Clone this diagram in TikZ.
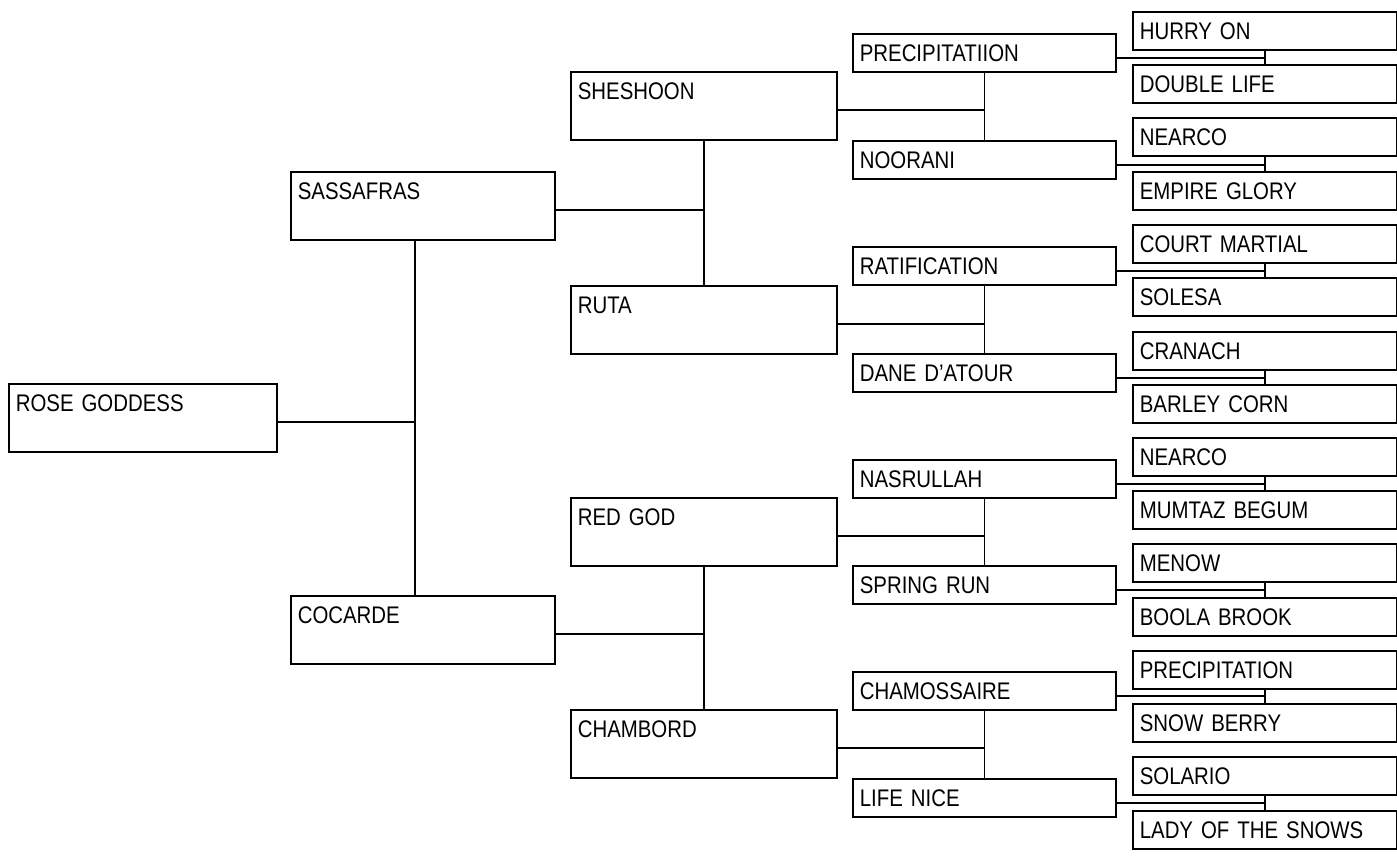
\documentclass[tikz,border=0pt]{standalone}
\usepackage{fontspec}
\setmainfont{Liberation Sans}[FakeStretch=0.85]
\begin{document}
\begin{tikzpicture}[x=1pt,y=-1pt,line width=1.6pt,
  every node/.style={draw,anchor=north west,align=left,inner xsep=7pt,inner ysep=0pt,font=\fontsize{24}{26}\selectfont,text height=28pt},
  bigbox/.style={text width=#1,text depth=40pt},
  smallbox/.style={text width=#1,text depth=10pt}]
\useasboundingbox (0,0) rectangle (1397,856);
\node[bigbox=254pt] (rose) at (8,383) {ROSE GODDESS};
\node[bigbox=250pt] (sass) at (290,171) {SASSAFRAS};
\node[bigbox=250pt] (coc) at (290,595) {COCARDE};
\node[bigbox=252pt] (shes) at (570,71) {SHESHOON};
\node[bigbox=252pt] (ruta) at (570,285) {RUTA};
\node[bigbox=252pt] (redgod) at (570,497) {RED GOD};
\node[bigbox=252pt] (chamb) at (570,709) {CHAMBORD};
\node[smallbox=249pt] (precii) at (852,33) {PRECIPITATIION};
\node[smallbox=249pt] (noor) at (852,140) {NOORANI};
\node[smallbox=249pt] (ratif) at (852,246) {RATIFICATION};
\node[smallbox=249pt] (dane) at (852,353) {DANE D'ATOUR};
\node[smallbox=249pt] (nasr) at (852,459) {NASRULLAH};
\node[smallbox=249pt] (spring) at (852,565) {SPRING RUN};
\node[smallbox=249pt] (chamos) at (852,671) {CHAMOSSAIRE};
\node[smallbox=249pt] (life) at (852,778) {LIFE NICE};
\node[smallbox=250pt] (hurry) at (1132,11) {HURRY ON};
\node[smallbox=250pt] (dlife) at (1132,64) {DOUBLE LIFE};
\node[smallbox=250pt] (nearcoa) at (1132,117) {NEARCO};
\node[smallbox=250pt] (empire) at (1132,171) {EMPIRE GLORY};
\node[smallbox=250pt] (court) at (1132,224) {COURT MARTIAL};
\node[smallbox=250pt] (solesa) at (1132,277) {SOLESA};
\node[smallbox=250pt] (cranach) at (1132,331) {CRANACH};
\node[smallbox=250pt] (barley) at (1132,384) {BARLEY CORN};
\node[smallbox=250pt] (nearcob) at (1132,437) {NEARCO};
\node[smallbox=250pt] (mumtaz) at (1132,490) {MUMTAZ BEGUM};
\node[smallbox=250pt] (menow) at (1132,543) {MENOW};
\node[smallbox=250pt] (boola) at (1132,597) {BOOLA BROOK};
\node[smallbox=250pt] (precip) at (1132,650) {PRECIPITATION};
\node[smallbox=250pt] (snowb) at (1132,703) {SNOW BERRY};
\node[smallbox=250pt] (solario) at (1132,756) {SOLARIO};
\node[smallbox=250pt] (lady) at (1132,810) {LADY OF THE SNOWS};
% rose goddess
\draw ([yshift=-4pt]rose.east) -- ([yshift=-4pt,xshift=-8pt]rose.east -| sass.south);\draw ([xshift=-8pt]sass.south) -- ([xshift=-8pt]coc.north);
% second generation
\draw ([yshift=-4pt]sass.east) -- ([yshift=-4pt]sass.east -| shes.south);\draw (shes.south) -- (ruta.north);
\draw ([yshift=-4pt]coc.east) -- ([yshift=-4pt]coc.east -| redgod.south);\draw (redgod.south) -- (chamb.north);
% third generation
\draw ([yshift=-4pt]shes.east) -- ([yshift=-4pt]shes.east -| precii.south);\draw (precii.south) -- (noor.north);
\draw ([yshift=-4pt]ruta.east) -- ([yshift=-4pt]ruta.east -| ratif.south);\draw (ratif.south) -- (dane.north);
\draw ([yshift=-4pt]redgod.east) -- ([yshift=-4pt]redgod.east -| nasr.south);\draw (nasr.south) -- (spring.north);
\draw ([yshift=-4pt]chamb.east) -- ([yshift=-4pt]chamb.east -| chamos.south);\draw (chamos.south) -- (life.north);
% fourth generation
\draw ([yshift=-5pt]precii.east) -- ([yshift=-5pt]precii.east -| hurry.south);\draw (hurry.south) -- (dlife.north);
\draw ([yshift=-5pt]noor.east) -- ([yshift=-5pt]noor.east -| nearcoa.south);\draw (nearcoa.south) -- (empire.north);
\draw ([yshift=-5pt]ratif.east) -- ([yshift=-5pt]ratif.east -| court.south);\draw (court.south) -- (solesa.north);
\draw ([yshift=-5pt]dane.east) -- ([yshift=-5pt]dane.east -| cranach.south);\draw (cranach.south) -- (barley.north);
\draw ([yshift=-5pt]nasr.east) -- ([yshift=-5pt]nasr.east -| nearcob.south);\draw (nearcob.south) -- (mumtaz.north);
\draw ([yshift=-5pt]spring.east) -- ([yshift=-5pt]spring.east -| menow.south);\draw (menow.south) -- (boola.north);
\draw ([yshift=-5pt]chamos.east) -- ([yshift=-5pt]chamos.east -| precip.south);\draw (precip.south) -- (snowb.north);
\draw ([yshift=-5pt]life.east) -- ([yshift=-5pt]life.east -| solario.south);\draw (solario.south) -- (lady.north);
\end{tikzpicture}
\end{document}
